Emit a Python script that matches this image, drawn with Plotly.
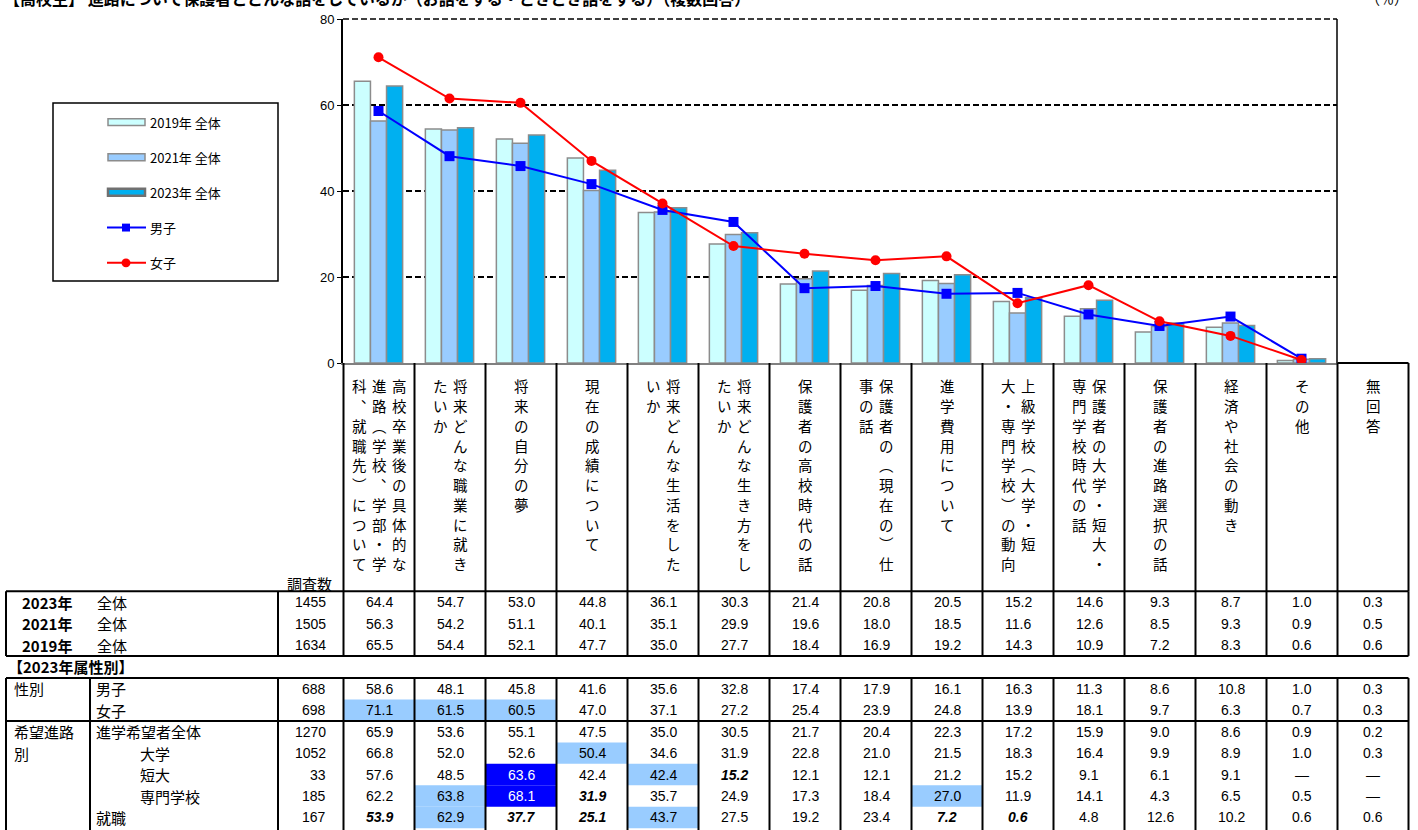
import plotly.graph_objects as go

# ---------------- data ----------------
header_cols = [
    ["高校卒業後の具体的な", "進路（学校、学部・学", "科、就職先）について"],
    ["将来どんな職業に就き", "たいか"],
    ["将来の自分の夢"],
    ["現在の成績について"],
    ["将来どんな生活をした", "いか"],
    ["将来どんな生き方をし", "たいか"],
    ["保護者の高校時代の話"],
    ["保護者の（現在の）仕", "事の話"],
    ["進学費用について"],
    ["上級学校（大学・短", "大・専門学校）の動向"],
    ["保護者の大学・短大・", "専門学校時代の話"],
    ["保護者の進路選択の話"],
    ["経済や社会の動き"],
    ["その他"],
    ["無回答"],
]
categories = ["".join(c) for c in header_cols]

year_labels = ["2023年", "2021年", "2019年"]
year_counts = [1455, 1505, 1634]
all_2023 = [64.4, 54.7, 53.0, 44.8, 36.1, 30.3, 21.4, 20.8, 20.5, 15.2, 14.6, 9.3, 8.7, 1.0, 0.3]
all_2021 = [56.3, 54.2, 51.1, 40.1, 35.1, 29.9, 19.6, 18.0, 18.5, 11.6, 12.6, 8.5, 9.3, 0.9, 0.5]
all_2019 = [65.5, 54.4, 52.1, 47.7, 35.0, 27.7, 18.4, 16.9, 19.2, 14.3, 10.9, 7.2, 8.3, 0.6, 0.6]

attr_labels = ["男子", "女子", "進学希望者全体", "大学", "短大", "専門学校", "就職"]
attr_counts = [688, 698, 1270, 1052, 33, 185, 167]
boys = [58.6, 48.1, 45.8, 41.6, 35.6, 32.8, 17.4, 17.9, 16.1, 16.3, 11.3, 8.6, 10.8, 1.0, 0.3]
girls = [71.1, 61.5, 60.5, 47.0, 37.1, 27.2, 25.4, 23.9, 24.8, 13.9, 18.1, 9.7, 6.3, 0.7, 0.3]
shingaku = [65.9, 53.6, 55.1, 47.5, 35.0, 30.5, 21.7, 20.4, 22.3, 17.2, 15.9, 9.0, 8.6, 0.9, 0.2]
daigaku = [66.8, 52.0, 52.6, 50.4, 34.6, 31.9, 22.8, 21.0, 21.5, 18.3, 16.4, 9.9, 8.9, 1.0, 0.3]
tandai = [57.6, 48.5, 63.6, 42.4, 42.4, 15.2, 12.1, 12.1, 21.2, 15.2, 9.1, 6.1, 9.1, None, None]
senmon = [62.2, 63.8, 68.1, 31.9, 35.7, 24.9, 17.3, 18.4, 27.0, 11.9, 14.1, 4.3, 6.5, 0.5, None]
shushoku = [53.9, 62.9, 37.7, 25.1, 43.7, 27.5, 19.2, 23.4, 7.2, 0.6, 4.8, 12.6, 10.2, 0.6, 0.6]

group_labels = ["性別", "希望進路", "別"]
title_text = "【高校生】 進路について保護者とどんな話をしているか（お話をする・ときどき話をする）（複数回答）"
unit_text = "（％）"
section_text = "【2023年属性別】"
count_header = "調査数"
all_label = "全体"

# ---------------- styling / layout helpers ----------------
W, H = 1418, 830
L, R, T, B = 343, 1337, 15, 363
JP = "Noto Sans CJK JP"
NUM = "Liberation Sans, Arial, sans-serif"
C19, C21, C23 = "#CCFFFF", "#99CCFF", "#00B0F0"
LIGHT, DARK = "#99CCFF", "#0000FF"

def X(px):
    return (px - L) / (R - L)

def Y(py):
    return (B - py) / (B - T)

shapes = []
annotations = []

def hline(x0, x1, y, w=2, color="black", dash=None):
    d = dict(type="line", xref="paper", yref="paper", x0=X(x0), x1=X(x1), y0=Y(y), y1=Y(y),
             line=dict(color=color, width=w))
    if dash:
        d["line"]["dash"] = dash
    shapes.append(d)

def vline(x, y0, y1, w=2, color="black"):
    shapes.append(dict(type="line", xref="paper", yref="paper", x0=X(x), x1=X(x), y0=Y(y0), y1=Y(y1),
                       line=dict(color=color, width=w)))

def text(x, y, s, size=14, family=JP, anchor="left", color="black"):
    annotations.append(dict(x=X(x), y=Y(y), xref="paper", yref="paper", text=s, showarrow=False,
                            xanchor=anchor, yanchor="middle", font=dict(size=size, family=family, color=color)))

# ---------------- chart ----------------
xc = categories[:14]
fig = go.Figure()
fig.add_bar(x=xc, y=all_2019[:14], name="2019年 全体",
            marker=dict(color=C19, line=dict(color="#8C8C8C", width=1.5)))
fig.add_bar(x=xc, y=all_2021[:14], name="2021年 全体",
            marker=dict(color=C21, line=dict(color="#8C8C8C", width=1.5)))
fig.add_bar(x=xc, y=all_2023[:14], name="2023年 全体",
            marker=dict(color=C23, line=dict(color="#8C8C8C", width=1.5)))
fig.add_scatter(x=xc, y=boys[:14], name="男子", mode="lines+markers",
                line=dict(color="#0000FF", width=2),
                marker=dict(symbol="square", size=10, color="#0000FF"))
fig.add_scatter(x=xc, y=girls[:14], name="女子", mode="lines+markers",
                line=dict(color="#FF0000", width=2),
                marker=dict(symbol="circle", size=10, color="#FF0000"))

# plot frame
hline(L, R, T, w=1.5, dash="6px,3px")
vline(R, T, B, w=1.5)

# ---------------- legend (manual) ----------------
shapes.append(dict(type="rect", xref="paper", yref="paper", x0=X(53), x1=X(278), y0=Y(100), y1=Y(280),
                   line=dict(color="black", width=1.5), fillcolor="white"))
leg_y = [119.3, 154.8, 190.3, 226.0, 261.7]
names = [tr.name for tr in fig.data]
for i, (c, lw, lc) in enumerate([(C19, 1.5, "#8C8C8C"), (C21, 1.5, "#8C8C8C"), (C23, 2.5, "#707070")]):
    shapes.append(dict(type="rect", xref="paper", yref="paper", x0=X(108), x1=X(145),
                       y0=Y(leg_y[i] - 3.5), y1=Y(leg_y[i] + 3.5),
                       fillcolor=c, line=dict(color=lc, width=lw)))
for i, col in [(3, "#0000FF"), (4, "#FF0000")]:
    hline(107, 146, leg_y[i], w=2, color=col)
shapes.append(dict(type="rect", xref="paper", yref="paper", x0=X(122), x1=X(130),
                   y0=Y(leg_y[3] - 4), y1=Y(leg_y[3] + 4), fillcolor="#0000FF", line=dict(width=0)))
shapes.append(dict(type="circle", xref="paper", yref="paper", x0=X(121.5), x1=X(130.5),
                   y0=Y(leg_y[4] - 4.5), y1=Y(leg_y[4] + 4.5), fillcolor="#FF0000", line=dict(width=0)))
for i, nm in enumerate(names):
    text(148, leg_y[i], nm, size=13)

# ---------------- table ----------------
xb = [343.5 + 71 * k for k in range(16)]
XL, XR = 6, xb[15]
VERT = {"（": "︵", "）": "︶", "、": "︑"}

# header: vertical labels
for k, cols in enumerate(header_cols):
    cx = (xb[k] + xb[k + 1]) / 2
    n = len(cols)
    for j, col in enumerate(cols):
        x = cx + (n - 1) * 10 - j * 20
        for r, ch in enumerate(col):
            annotations.append(dict(x=X(x), y=Y(386 + 20 * r), xref="paper", yref="paper",
                                    text=VERT.get(ch, ch), showarrow=False, xanchor="center",
                                    yanchor="middle", font=dict(size=14.5, family=JP, color="black")))
for k in range(16):
    vline(xb[k], B, 594)
hline(xb[14], xb[15], B)
text(334, 586, count_header, size=15, anchor="right")

# highlight specs (row index in attribute block, column, style)
highlights = {
    (1, 0): "light", (1, 1): "light", (1, 2): "light",
    (3, 3): "light",
    (4, 2): "dark", (4, 4): "light", (4, 5): "bi",
    (5, 1): "light", (5, 2): "dark", (5, 3): "bi", (5, 8): "light",
    (6, 0): "bi", (6, 1): "light", (6, 2): "bi", (6, 3): "bi", (6, 4): "light", (6, 8): "bi", (6, 9): "bi",
}

def fmt(v):
    return "—" if v is None else f"{v:.1f}"

# block 1
b1_top, b1_bot = 594, 659.3
rh = (b1_bot - b1_top) / 3
for i, (lab, cnt, vals) in enumerate(zip(year_labels, year_counts, [all_2023, all_2021, all_2019])):
    yc = b1_top + rh * (i + 0.5)
    text(20, yc, f"<b>{lab}</b>", size=15)
    text(95, yc, all_label, size=15)
    text(328, yc, str(cnt), size=14, family=NUM, anchor="right")
    for c, v in enumerate(vals):
        text((xb[c] + xb[c + 1]) / 2, yc, fmt(v), size=14, family=NUM, anchor="center")
hline(XL, XR, b1_top)
hline(XL, XR, b1_bot)
for x in [XL, 278] + xb:
    vline(x, b1_top, b1_bot)

text(6, 670, f"<b>{section_text}</b>", size=15)

# block 2
b2_top = 681.7
rh2 = 21.7
attr_vals = [boys, girls, shingaku, daigaku, tandai, senmon, shushoku]
label_x = [94, 94, 94, 138, 138, 138, 94]
for (r, c), st in highlights.items():
    if st in ("light", "dark"):
        shapes.append(dict(type="rect", xref="paper", yref="paper", x0=X(xb[c]), x1=X(xb[c + 1]),
                           y0=Y(b2_top + rh2 * r), y1=Y(b2_top + rh2 * (r + 1)),
                           fillcolor=LIGHT if st == "light" else DARK, line=dict(width=0), layer="above"))
for i, (lab, cnt, vals) in enumerate(zip(attr_labels, attr_counts, attr_vals)):
    yc = b2_top + rh2 * (i + 0.5)
    text(label_x[i], yc, lab, size=15)
    text(328, yc, str(cnt), size=14, family=NUM, anchor="right")
    for c, v in enumerate(vals):
        st = highlights.get((i, c))
        s = fmt(v)
        color = "black"
        if st == "bi":
            s = f"<b><i>{s}</i></b>"
        elif st == "dark":
            color = "white"
        text((xb[c] + xb[c + 1]) / 2, yc, s, size=14, family=NUM, anchor="center", color=color)
text(12, b2_top + rh2 * 0.5, group_labels[0], size=15)
text(12, b2_top + rh2 * 2.5, group_labels[1], size=15)
text(12, b2_top + rh2 * 3.5, group_labels[2], size=15)
b2_bot = 840
hline(XL, XR, b2_top)
hline(XL, XR, b2_top + rh2 * 2)
for x in [XL, 90, 278] + xb:
    vline(x, b2_top, b2_bot)

# title (clipped at top, as in the reference)
text(2, -6, f"<b>{title_text}</b>", size=16)
text(1410, -6, unit_text, size=14, anchor="right")

fig.update_layout(
    width=W, height=H,
    margin=dict(l=L, r=W - R, t=T, b=H - B, pad=0),
    paper_bgcolor="white", plot_bgcolor="white",
    barmode="group", bargap=0.32, bargroupgap=0,
    showlegend=False,
    shapes=shapes, annotations=annotations,
    xaxis=dict(type="category", range=[-0.5, 13.5], showticklabels=False, ticks="outside",
               tickson="boundaries", ticklen=5, tickcolor="#808080", showline=True,
               linecolor="#808080", linewidth=2, showgrid=False, zeroline=False),
    yaxis=dict(range=[0, 80], dtick=20, tick0=0, showgrid=True, gridcolor="black",
               griddash="6px,3px", gridwidth=1.5, showline=True, linecolor="black", linewidth=2,
               ticks="outside", ticklen=4, tickcolor="black", zeroline=False,
               tickfont=dict(family=NUM, size=13, color="black")),
    font=dict(family=JP, color="black"),
)

fig.write_html("out.html", config={"displayModeBar": False},
               post_script="document.body.style.margin='0';document.body.style.overflow='hidden';")
